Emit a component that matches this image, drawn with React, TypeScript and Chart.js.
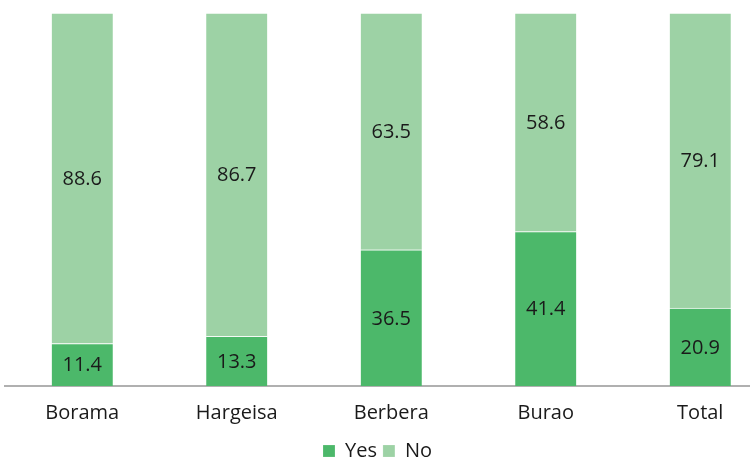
import React, { useEffect, useRef } from "react";
import { Chart, registerables } from "chart.js";

Chart.register(...registerables);

const categories = ["Borama", "Hargeisa", "Berbera", "Burao", "Total"];
const yesValues = [11.4, 13.3, 36.5, 41.4, 20.9];
const noValues = [88.6, 86.7, 63.5, 58.6, 79.1];
const seriesNames = ["Yes", "No"];

const FONT = "'Open Sans', sans-serif";

const valueLabels = {
  id: "valueLabels",
  afterDatasetsDraw(chart: any) {
    const ctx = chart.ctx;
    ctx.save();
    ctx.font = `20px ${FONT}`;
    ctx.fillStyle = "#1a1a1a";
    ctx.textAlign = "center";
    ctx.textBaseline = "middle";
    chart.data.datasets.forEach((ds: any, di: number) => {
      const meta = chart.getDatasetMeta(di);
      meta.data.forEach((bar: any, i: number) => {
        const v = ds.data[i].y;
        const props = bar.getProps(["x", "y", "base"], true);
        const cy = (props.y + props.base) / 2;
        ctx.fillText(v.toFixed(1), props.x, cy + 1);
      });
    });
    ctx.restore();
  },
};

export default function App() {
  const ref = useRef<HTMLCanvasElement>(null);
  useEffect(() => {
    const chart = new Chart(ref.current!, {
      type: "bar",
      data: {
        datasets: [
          {
            label: seriesNames[0],
            data: yesValues.map((y, i) => ({ x: i, y })),
            backgroundColor: "#4cb86a",
            borderColor: "rgba(255,255,255,0.7)",
            borderWidth: { top: 1, left: 0, right: 0, bottom: 0 },
            borderSkipped: false,
            barThickness: 61,
          },
          {
            label: seriesNames[1],
            data: noValues.map((y, i) => ({ x: i, y })),
            backgroundColor: "#9dd2a5",
            borderColor: "rgba(255,255,255,0.7)",
            borderWidth: { top: 1, left: 0, right: 0, bottom: 0 },
            borderSkipped: false,
            barThickness: 61,
          },
        ],
      },
      options: {
        animation: false,
        responsive: true,
        maintainAspectRatio: false,
        layout: { padding: { left: 5, top: 13, right: 0, bottom: -10 } },
        plugins: {
          legend: {
            position: "bottom",
            labels: {
              boxWidth: 12,
              boxHeight: 12,
              color: "#1a1a1a",
              font: { family: FONT, size: 20 },
              padding: 6,
            },
          },
          tooltip: { enabled: false },
        },
        scales: {
          x: {
            type: "linear",
            stacked: true,
            offset: false,
            min: -0.5,
            max: 4.322,
            grid: { display: false, drawTicks: false },
            border: { display: true, color: "#b0b0b0", width: 2 },
            afterBuildTicks: (s: any) => {
              s.ticks = categories.map((_, i) => ({ value: i }));
            },
            afterFit: (s: any) => {
              s.height = s.height - 5;
            },
            ticks: {
              autoSkip: false,
              maxRotation: 0,
              padding: 15,
              color: "#1a1a1a",
              font: { family: FONT, size: 20 },
              callback: (v: any) => categories[Math.round(v)] ?? "",
            },
          },
          y: {
            stacked: true,
            display: false,
            min: 0,
            max: 100,
          },
        },
      },
      plugins: [valueLabels],
    });
    return () => chart.destroy();
  }, []);
  return (
    <div style={{ position: "absolute", left: 0, top: 0, width: 750, height: 461 }}>
      <canvas ref={ref} />
    </div>
  );
}
